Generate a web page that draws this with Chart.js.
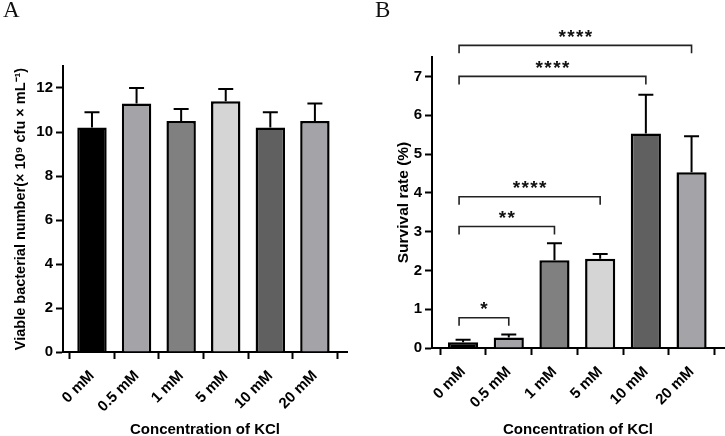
<!DOCTYPE html>
<html>
<head>
<meta charset="utf-8">
<script src="https://cdn.jsdelivr.net/npm/chart.js@4.4.1/dist/chart.umd.min.js"></script>
<style>
  body { margin: 0; background: #fff; }
  .wrap { position: absolute; top: 0; width: 725px; height: 436px; }
  .panel { position: absolute; top: 0; }
  .tag { position: absolute; top: -3px; font: 23px "Liberation Serif", serif; color: #111; }
</style>
</head>
<body>
<div class="wrap">
  <canvas id="chartA" class="panel" style="left:0" width="360" height="436"></canvas>
  <canvas id="chartB" class="panel" style="left:360px" width="365" height="436"></canvas>
  <div class="tag" style="left:3px">A</div>
  <div class="tag" style="left:375px">B</div>
</div>
<script>
// Data
const categories = ['0 mM', '0.5 mM', '1 mM', '5 mM', '10 mM', '20 mM'];
const barColors = ['#000000', '#a4a4a8', '#808080', '#d5d5d5', '#606060', '#a4a4a8'];

// panel A: viable count
const viableMean = [10.2, 11.3, 10.5, 11.4, 10.2, 10.5];
const viableSD = [0.7, 0.7, 0.55, 0.55, 0.7, 0.8];

// panel B: survival rate
const survivalMean = [0.15, 0.27, 2.26, 2.3, 5.53, 4.53];
const survivalSD = [0.06, 0.08, 0.44, 0.12, 1.0, 0.93];

// significance brackets for panel B
const bracketFrom = [0, 0, 0, 0, 0];
const bracketTo = [1, 2, 3, 4, 5];
const bracketY = [0.78, 3.13, 3.9, 7.0, 7.8];
const bracketText = ['*', '**', '****', '****', '****'];

const fontFamily = '"Liberation Sans", Arial, sans-serif';

// Plugins
const errorBars = {
  id: 'errorBars',
  afterDatasetsDraw(chart, args, opts) {
    const ctx = chart.ctx;
    const xs = chart.scales.x, ys = chart.scales.y;
    ctx.save();
    ctx.strokeStyle = '#000';
    ctx.lineWidth = 2;
    opts.mean.forEach((m, i) => {
      const x = xs.getPixelForValue(i);
      const y0 = ys.getPixelForValue(m);
      const y1 = ys.getPixelForValue(m + opts.sd[i]);
      ctx.beginPath();
      ctx.moveTo(x, y0);
      ctx.lineTo(x, y1);
      ctx.moveTo(x - 7.5, y1);
      ctx.lineTo(x + 7.5, y1);
      ctx.stroke();
    });
    ctx.restore();
  }
};

const brackets = {
  id: 'brackets',
  afterDraw(chart, args, opts) {
    if (!opts.from) return;
    const ctx = chart.ctx;
    const xs = chart.scales.x, ys = chart.scales.y;
    ctx.save();
    ctx.strokeStyle = '#222';
    ctx.fillStyle = '#111';
    ctx.lineWidth = 1.6;
    ctx.font = 'bold 19px ' + fontFamily;
    ctx.textAlign = 'center';
    ctx.textBaseline = 'middle';
    opts.from.forEach((f, i) => {
      const x0 = xs.getPixelForValue(f) - 4;
      const x1 = xs.getPixelForValue(opts.to[i]);
      const y = ys.getPixelForValue(opts.y[i]);
      ctx.beginPath();
      ctx.moveTo(x0, y + 8);
      ctx.lineTo(x0, y);
      ctx.lineTo(x1, y);
      ctx.lineTo(x1, y + 8);
      ctx.stroke();
      const label = opts.text[i];
      const mid = (x0 + x1) / 2;
      const step = 8.8;
      for (let k = 0; k < label.length; k++) {
        ctx.fillText(label[k], mid + (k - (label.length - 1) / 2) * step, y - 8);
      }
    });
    ctx.restore();
  }
};

function makeChart(id, p) {
  return new Chart(document.getElementById(id), {
    type: 'bar',
    data: {
      datasets: [{
        data: p.mean.map((v, i) => ({ x: i, y: v })),
        backgroundColor: barColors,
        borderColor: '#000',
        borderWidth: 2.5,
        borderSkipped: 'start',
        barPercentage: 0.66,
        categoryPercentage: 1
      }]
    },
    options: {
      responsive: false,
      animation: false,
      layout: { padding: { left: 0, right: p.padRight, top: p.padTop, bottom: 0 } },
      plugins: {
        legend: { display: false },
        tooltip: { enabled: false },
        errorBars: { mean: p.mean, sd: p.sd },
        brackets: p.brackets || {}
      },
      scales: {
        x: {
          type: 'linear',
          offset: false,
          min: p.xMin,
          max: p.xMax,
          afterBuildTicks: s => { s.ticks = categories.map((c, i) => ({ value: i })); },
          afterFit: s => { s.height = p.xHeight; },
          ticks: {
            callback: v => categories[v],
            autoSkip: false,
            minRotation: 45,
            maxRotation: 45,
            color: '#000',
            padding: 8,
            font: { family: fontFamily, size: 15, weight: 'bold' }
          },
          grid: { drawOnChartArea: false, tickLength: 7, tickWidth: 2, tickColor: '#000' },
          border: { color: '#000', width: 2 },
          title: {
            display: true,
            text: 'Concentration of KCl',
            color: '#000',
            padding: { top: 0, bottom: -3 },
            font: { family: fontFamily, size: 15, weight: 'bold' }
          }
        },
        y: {
          min: 0,
          max: p.yMax,
          afterFit: s => { s.width = p.yWidth; },
          ticks: {
            stepSize: p.yStep,
            includeBounds: false,
            color: '#000',
            padding: 3,
            font: { family: fontFamily, size: 15, weight: 'bold' }
          },
          grid: { drawOnChartArea: false, tickLength: 7, tickWidth: 2, tickColor: '#000' },
          border: { color: '#000', width: 2 },
          title: {
            display: true,
            text: p.yTitle,
            color: '#000',
            padding: { top: p.yTitlePad, bottom: 0 },
            font: { family: fontFamily, size: p.yTitleSize, weight: 'bold' }
          }
        }
      }
    },
    plugins: [errorBars, brackets]
  });
}

makeChart('chartA', {
  mean: viableMean, sd: viableSD,
  yMax: 13, yStep: 2, yWidth: 63, xHeight: 84,
  padTop: 66, padRight: 13, xMin: -0.65, xMax: 5.72,
  yTitlePad: 12, yTitleSize: 14.5,
  yTitle: 'Viable bacterial number(× 10⁹ cfu × mL⁻¹)'
});

makeChart('chartB', {
  mean: survivalMean, sd: survivalSD,
  yMax: 7.5, yStep: 1, yWidth: 72, xHeight: 88,
  padTop: 57, padRight: 1, xMin: -0.68, xMax: 5.71,
  yTitlePad: 34, yTitleSize: 15.5,
  yTitle: 'Survival rate (%)',
  brackets: { from: bracketFrom, to: bracketTo, y: bracketY, text: bracketText }
});
</script>
</body>
</html>
